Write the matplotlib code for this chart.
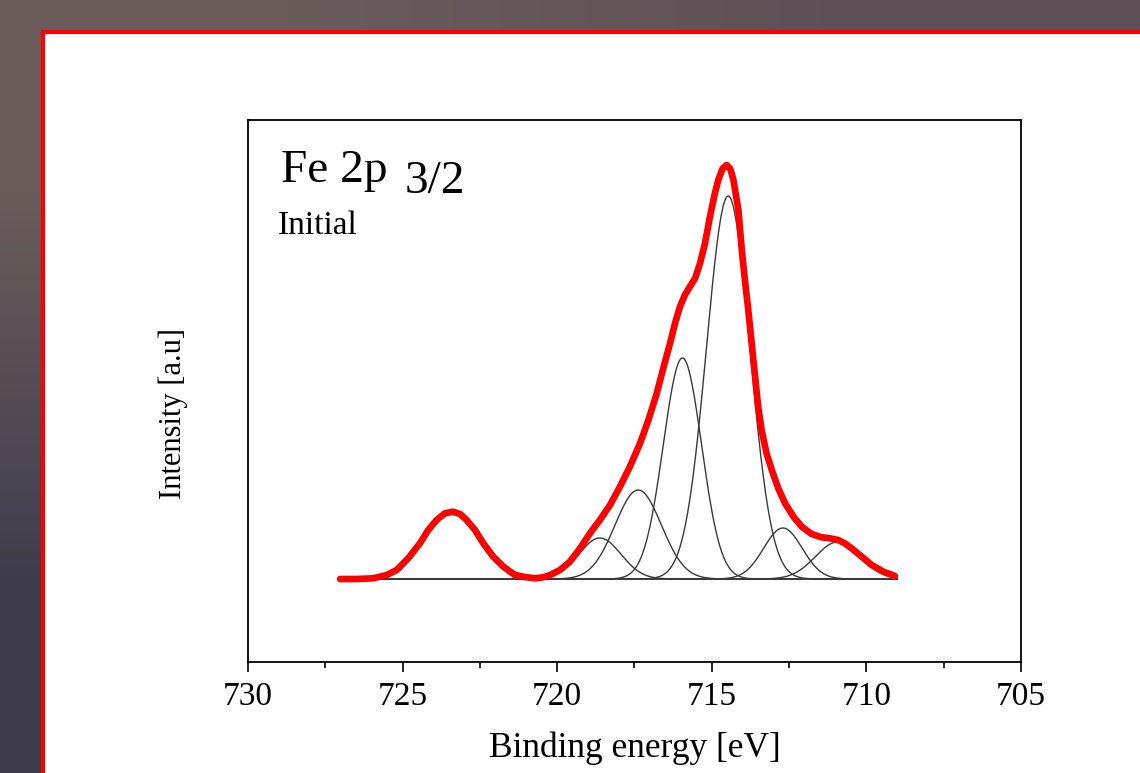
import numpy as np
import matplotlib
matplotlib.use("Agg")
import matplotlib.pyplot as plt
from matplotlib.patches import Rectangle

plt.rcParams['font.family'] = ['Liberation Serif', 'DejaVu Serif']

# measured envelope (red), binding energy [eV] vs intensity [a.u.]
be_meas = [727.02, 726.48, 725.95, 725.51, 725.19, 724.82, 724.44, 724.17,
           723.90, 723.63, 723.38, 723.14, 722.93, 722.66, 722.39, 722.07,
           721.74, 721.37, 720.99, 720.72, 720.45, 720.23, 719.91, 719.59,
           719.26, 718.94, 718.62, 718.29, 717.97, 717.65, 717.32, 717.05,
           716.78, 716.57, 716.35, 716.19, 716.03, 715.87, 715.71, 715.54,
           715.38, 715.22, 715.06, 714.90, 714.79, 714.66, 714.52, 714.40,
           714.30, 714.14, 714.03, 713.93, 713.82, 713.71, 713.60, 713.50,
           713.39, 713.23, 713.06, 712.85, 712.63, 712.36, 712.09, 711.77,
           711.45, 711.18, 710.91, 710.70, 710.48, 710.15, 709.83, 709.45,
           709.08]
int_meas = [0, 0, 0.7, 4, 9, 20.7, 35.7, 49,
            59, 65.7, 67.3, 65, 59, 49, 35.7, 22.3,
            12.3, 4, 1.7, 0.7, 1.7, 4, 9, 17.3,
            30.7, 45.7, 59, 74, 92.3, 112.3, 135.7, 159,
            185.7, 210.7, 235.7, 255.7, 272.3, 284, 292.3, 300.7,
            315.7, 335.7, 362.3, 385.7, 399, 410, 414, 410,
            399, 369, 329, 299, 269, 235.7, 202.3, 172.3,
            149, 125.7, 109, 90.7, 75.7, 62.3, 52.3, 45,
            41.7, 40.7, 39, 35.7, 30.7, 22.3, 14, 7.3,
            3]

# fitted components: centre [eV], height, sigma [eV]
peak_pos = [723.38, 718.62, 717.38, 715.95, 714.47, 712.70, 710.93]
peak_height = [67, 41, 89, 221, 383, 51, 37]
peak_sigma = [0.95, 0.68, 0.75, 0.62, 0.70, 0.62, 0.72]

W, H = 1140, 773
fig = plt.figure(figsize=(W / 100, H / 100), dpi=100)

# background + red framed white panel
bg = fig.add_axes([0, 0, 1, 1], zorder=0)
grad = np.array([[[0.42, 0.36, 0.36], [0.37, 0.31, 0.34]],
                 [[0.25, 0.24, 0.30], [0.30, 0.27, 0.32]]])
bg.imshow(grad, extent=[0, W, H, 0], aspect='auto', interpolation='bilinear')
bg.add_patch(Rectangle((43, 32), W, H, facecolor='white', edgecolor='#ff0000',
                       linewidth=3))
bg.set_xlim(0, W)
bg.set_ylim(H, 0)
bg.axis('off')

ax = fig.add_axes([248 / W, 1 - 662 / H, (1021 - 248) / W, (662 - 120) / H], zorder=1)

x = np.linspace(727, 709, 900)
for c, h, s in zip(peak_pos, peak_height, peak_sigma):
    ax.plot(x, h * np.exp(-(x - c) ** 2 / (2 * s ** 2)), color='#3a3a3a', lw=1.0)

ax.plot(be_meas, int_meas, color='#ff0000', lw=4.8, solid_joinstyle='round',
        solid_capstyle='round', zorder=3)

ax.set_xlim(730, 705)
ax.set_ylim(-83, 459)
ax.set_xticks([730, 725, 720, 715, 710, 705])
ax.set_xticks(np.arange(727.5, 705, -5), minor=True)
ax.set_yticks([])
ax.tick_params(axis='x', which='major', direction='out', length=7, width=1.2,
               labelsize=24, pad=7)
ax.tick_params(axis='x', which='minor', direction='out', length=4.5, width=1.2)
for sp in ax.spines.values():
    sp.set_linewidth(1.3)

ax.set_xlabel('Binding energy [eV]', fontsize=25.5, labelpad=14)
ax.set_ylabel('Intensity [a.u]', fontsize=22)
ax.yaxis.set_label_coords(-0.077, 0.459)

fig.text(281 / W, 1 - 182 / H, 'Fe 2p', fontsize=34, va='baseline', ha='left')
fig.text(405 / W, 1 - 193 / H, '3/2', fontsize=34, va='baseline', ha='left')
fig.text(278 / W, 1 - 234 / H, 'Initial', fontsize=24, va='baseline', ha='left')

fig.savefig('out.png', dpi=100)
